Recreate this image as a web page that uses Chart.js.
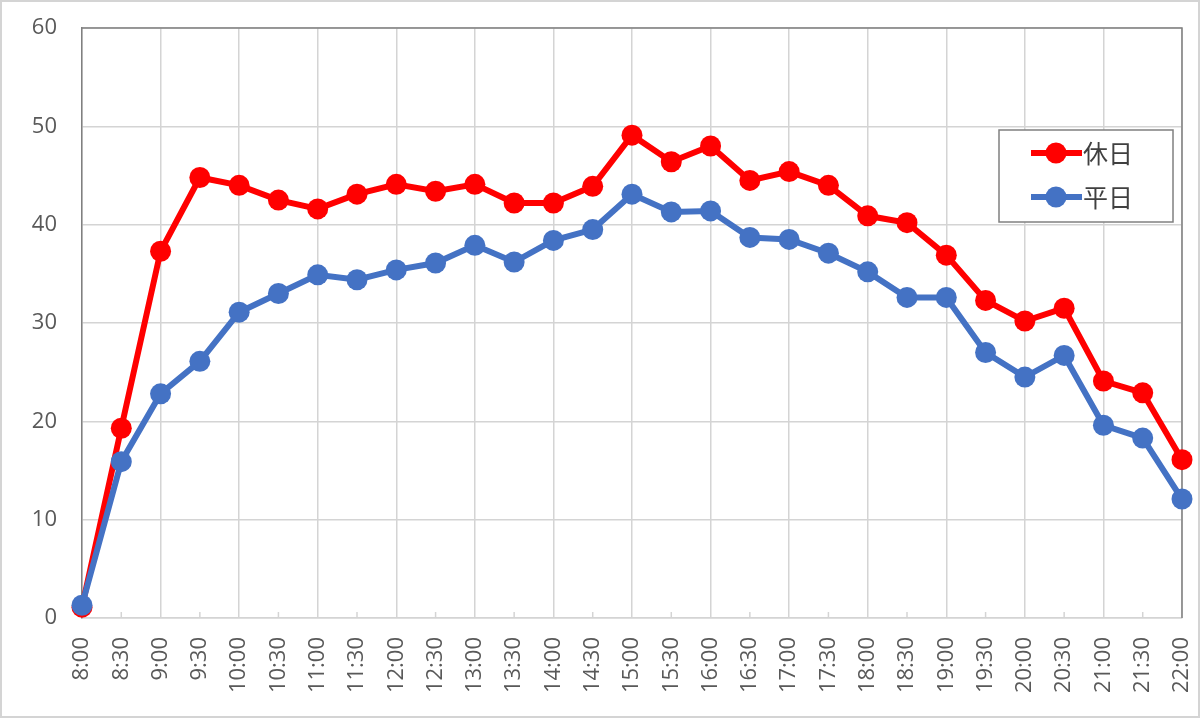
<!DOCTYPE html>
<html>
<head>
<meta charset="utf-8">
<script src="https://cdn.jsdelivr.net/npm/chart.js@4.4.1/dist/chart.umd.min.js"></script>
<style>
  html, body { margin: 0; padding: 0; background: #ffffff; }
  #wrap { width: 1200px; height: 718px; }
</style>
</head>
<body>
<div id="wrap"><canvas id="c" width="1200" height="718"></canvas></div>
<script>
const categories = ["8:00","8:30","9:00","9:30","10:00","10:30","11:00","11:30","12:00","12:30","13:00","13:30","14:00","14:30","15:00","15:30","16:00","16:30","17:00","17:30","18:00","18:30","19:00","19:30","20:00","20:30","21:00","21:30","22:00"];
const seriesNames = ["休日", "平日"];
const holidayValues = [1.1, 19.3, 37.3, 44.8, 44.0, 42.5, 41.6, 43.1, 44.1, 43.4, 44.1, 42.2, 42.2, 43.9, 49.1, 46.4, 48.0, 44.5, 45.4, 44.0, 40.9, 40.2, 36.9, 32.3, 30.2, 31.5, 24.1, 22.9, 16.1];
const weekdayValues = [1.3, 15.9, 22.8, 26.1, 31.1, 33.0, 34.9, 34.4, 35.4, 36.1, 37.9, 36.2, 38.4, 39.5, 43.1, 41.3, 41.4, 38.7, 38.5, 37.1, 35.2, 32.6, 32.6, 27.0, 24.5, 26.7, 19.6, 18.3, 12.1];
const yTicks = [0, 10, 20, 30, 40, 50, 60];

const RED = '#FF0000';
const BLUE = '#4472C4';
const TEXT = '#595959';
const GRID = '#d4d4d4';
const AXIS = '#808080';

const framePlugin = {
  id: 'frame',
  beforeDatasetsDraw(chart) {
    const { ctx, chartArea: a } = chart;
    const xs = chart.scales.x;
    ctx.save();
    ctx.strokeStyle = GRID;
    ctx.lineWidth = 1.5;
    categories.forEach((c, i) => {
      if (i % 2 === 1) {
        const x = xs.getPixelForValue(i);
        ctx.beginPath();
        ctx.moveTo(x, a.bottom - 6);
        ctx.lineTo(x, a.bottom);
        ctx.stroke();
      }
    });
    ctx.strokeStyle = AXIS;
    ctx.lineWidth = 1.5;
    ctx.beginPath();
    ctx.moveTo(a.left, a.top);
    ctx.lineTo(a.right, a.top);
    ctx.lineTo(a.right, a.bottom);
    ctx.stroke();
    ctx.restore();
  },
  afterDraw(chart) {
    const { ctx } = chart;
    ctx.save();
    const bx = 999, by = 130, bw = 174, bh = 92;
    ctx.fillStyle = '#ffffff';
    ctx.fillRect(bx, by, bw, bh);
    ctx.strokeStyle = AXIS;
    ctx.lineWidth = 1.5;
    ctx.strokeRect(bx, by, bw, bh);
    const rows = [153, 197];
    chart.data.datasets.forEach((ds, i) => {
      const y = rows[i];
      ctx.strokeStyle = ds.borderColor;
      ctx.lineWidth = 6;
      ctx.beginPath();
      ctx.moveTo(1031, y);
      ctx.lineTo(1082, y);
      ctx.stroke();
      ctx.fillStyle = ds.borderColor;
      ctx.beginPath();
      ctx.arc(1056, y, 10.5, 0, Math.PI * 2);
      ctx.fill();
      ctx.fillStyle = '#404040';
      ctx.font = '25px "Noto Sans CJK JP"';
      ctx.textBaseline = 'middle';
      ctx.textAlign = 'left';
      ctx.fillText(ds.label, 1083, y);
    });
    ctx.strokeStyle = GRID;
    ctx.lineWidth = 2;
    ctx.strokeRect(1, 1, chart.width - 2, chart.height - 2);
    ctx.restore();
  }
};

new Chart(document.getElementById('c'), {
  type: 'line',
  data: {
    labels: categories,
    datasets: [
      {
        label: seriesNames[0],
        data: holidayValues,
        borderColor: RED,
        backgroundColor: RED,
        pointBackgroundColor: RED,
        pointBorderWidth: 0,
        pointRadius: 10.5,
        borderWidth: 6,
        tension: 0,
        clip: false,
        order: 1
      },
      {
        label: seriesNames[1],
        data: weekdayValues,
        borderColor: BLUE,
        backgroundColor: BLUE,
        pointBackgroundColor: BLUE,
        pointBorderWidth: 0,
        pointRadius: 10.5,
        borderWidth: 6,
        tension: 0,
        clip: false,
        order: 0
      }
    ]
  },
  options: {
    responsive: false,
    animation: false,
    events: [],
    layout: { padding: { left: 0, top: 28, right: 18, bottom: 0 } },
    plugins: { legend: { display: false }, tooltip: { enabled: false } },
    scales: {
      x: {
        type: 'category',
        offset: false,
        grid: {
          color: (ctx) => (ctx.index % 2 === 0 ? GRID : 'rgba(0,0,0,0)'),
          lineWidth: 1.5,
          drawTicks: false
        },
        border: { display: true, color: GRID, width: 1.5 },
        ticks: {
          autoSkip: false,
          minRotation: 90,
          maxRotation: 90,
          padding: 19,
          color: TEXT,
          font: { family: '"Open Sans"', size: 22 }
        },
        afterFit(scale) {
          scale.height = 100;
          scale.paddingLeft = 0; scale.paddingRight = 0;
          scale.paddingTop = 0; scale.paddingBottom = 0;
        }
      },
      y: {
        min: 0,
        max: 60,
        afterBuildTicks(scale) { scale.ticks = yTicks.map(v => ({ value: v })); },
        grid: { color: GRID, lineWidth: 1.5, drawTicks: false },
        border: { display: true, color: AXIS, width: 1.5 },
        ticks: {
          padding: 25,
          color: TEXT,
          font: { family: '"Open Sans"', size: 22 }
        },
        afterFit(scale) {
          scale.width = 82;
          scale.paddingTop = 0; scale.paddingBottom = 0;
          scale.paddingLeft = 0; scale.paddingRight = 0;
        }
      }
    }
  },
  plugins: [framePlugin]
});
</script>
</body>
</html>
